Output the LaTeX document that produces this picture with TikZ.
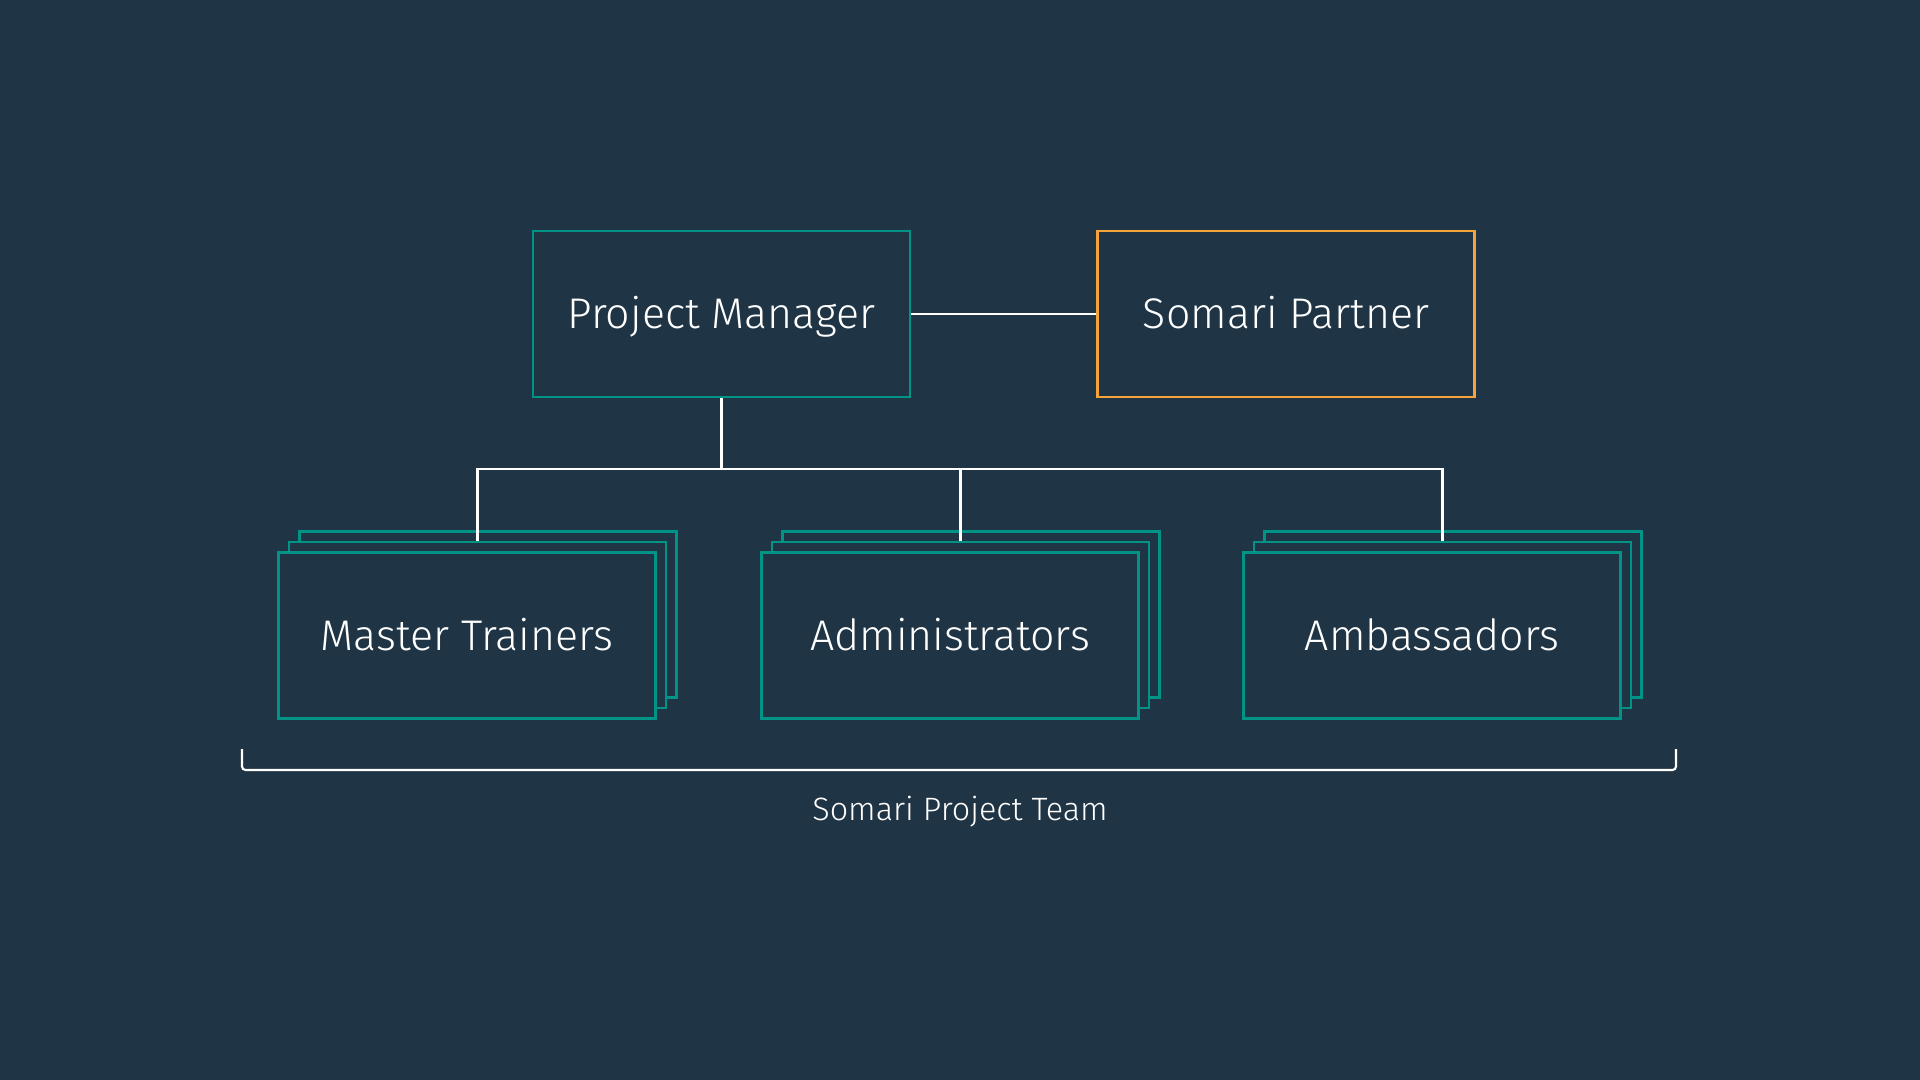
\documentclass[tikz,border=0pt]{standalone}
\usepackage{fontspec}
\setmainfont{Fira Sans Light}
\definecolor{bg}{RGB}{31,52,68}
\definecolor{pmteal}{RGB}{0,148,134}
\definecolor{amber}{RGB}{245,164,58}
\begin{document}
\begin{tikzpicture}
    \tikzset{
    role/.style={rectangle,minimum width=3.77cm,minimum height=1.66cm,draw=pmteal,fill=bg,line width=0.6pt,text=white,text height=8.4pt,text depth=0pt,font=\fontsize{12.2}{14}\selectfont},
    partner/.style={role,draw=amber},
    layer/.style={role},
    link/.style={white,line width=0.6pt},
    }
    \fill[bg] (0,0) rectangle (19.2,-10.8);
    \useasboundingbox (0,0) rectangle (19.2,-10.8);

    \node[role] (pm) at (7.215,-3.14) {Project Manager};
    \node[partner] (sp) at (12.86,-3.14) {Somari Partner};

    \node[layer] (mt3) at (4.88,-6.145) {};
    \node[layer] (mt2) at (4.775,-6.25) {};
    \node[role] (mt) at (4.67,-6.355) {Master Trainers};

    \node[layer] (ad3) at (9.71,-6.145) {};
    \node[layer] (ad2) at (9.605,-6.25) {};
    \node[role] (ad) at (9.50,-6.355) {Administrators};

    \node[layer] (am3) at (14.53,-6.145) {};
    \node[layer] (am2) at (14.425,-6.25) {};
    \node[role] (am) at (14.32,-6.355) {Ambassadors};

    \coordinate (bus) at (7.215,-4.69);
    \draw[link] (pm) -- (sp);
    \draw[link] (pm.south) -- (bus);
    \draw[link] (mt2.north) |- (bus) -| (am2.north);
    \draw[link] (ad2.north) -- (ad2.north |- bus);

    \coordinate (teamL) at (2.42,-7.49);
    \coordinate (teamR) at (16.76,-7.49);
    \draw[link,rounded corners=1pt] (teamL) -- ++(0,-0.21) -- ([yshift=-0.21cm]teamR) -- (teamR);
    \node[text=white,font=\fontsize{9.2}{11}\selectfont,text height=6.35pt,text depth=0pt] (team) at (9.60,-8.09) {Somari Project Team};
\end{tikzpicture}
\end{document}
